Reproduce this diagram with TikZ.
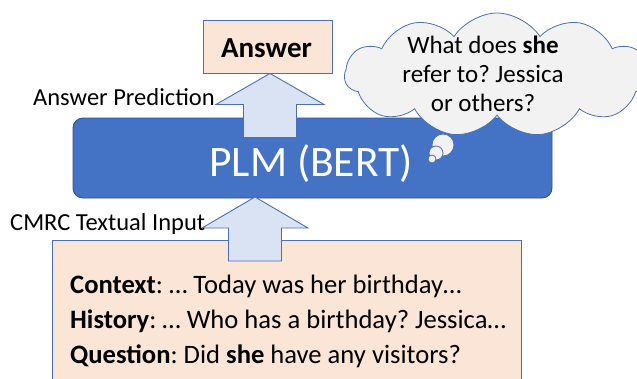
\documentclass[tikz,border=0pt]{standalone}
\usepackage{fontspec}
\setmainfont{Carlito}
\usetikzlibrary{shapes.symbols}

\definecolor{plmblue}{HTML}{4472C4}
\definecolor{plmedge}{HTML}{2F528F}
\definecolor{arrowfill}{HTML}{DAE3F3}
\definecolor{arrowedge}{HTML}{4A6FB5}
\definecolor{peach}{HTML}{FBE5D6}
\definecolor{cloudgray}{HTML}{F2F2F2}

\tikzset{
  x=1pt, y=-1pt,
  peachbox/.style={draw=arrowedge, fill=peach, line width=0.9pt, inner sep=0pt},
  plmbox/.style={draw=plmedge, fill=plmblue, line width=0.9pt, rounded corners=10pt, inner sep=0pt},
  blockarrow/.style={draw=arrowedge, fill=arrowfill, line width=0.9pt, line join=miter},
  sidelabel/.style={inner sep=0pt, font=\fontsize{24.5}{28}\selectfont},
  inputline/.style={inner sep=0pt, font=\fontsize{26.6}{32}\selectfont},
  thought/.style={draw=arrowedge, fill=cloudgray, line width=0.8pt},
  % upward block arrow; the pic origin is the tip
  uparrow/.pic={
    \path[blockarrow] (0,0) -- (#1,31) -- (26.5,31) -- (26.5,64) -- (-26.5,64)
      -- (-26.5,31) -- (-#1,31) -- cycle;
  },
}

\begin{document}
\frenchspacing
\begin{tikzpicture}
  \useasboundingbox (0,0) rectangle (637,378);
  \clip (0,0) rectangle (637,378);

  % model block
  \node[plmbox, minimum width=479pt, minimum height=80pt] (plm) at (312.5,158) {};
  \node[text=white, inner sep=0pt, anchor=base, font=\fontsize{43.5}{48}\selectfont] (plmtext) at (311,176) {PLM (BERT)};

  % answer box and the arrow feeding it
  \node[peachbox, minimum width=129pt, minimum height=53pt] (ans) at (267.5,46.5) {};
  \node[inner sep=0pt, anchor=base, font=\bfseries\fontsize{29}{32}\selectfont] (anstext) at (266.5,57) {Answer};
  \coordinate (anstip) at ([xshift=2.5pt]ans.south);
  \pic at (anstip) {uparrow=54};
  \node[sidelabel, anchor=base west] (predlabel) at (33,105) {Answer Prediction};

  % textual input box
  \node[peachbox, anchor=north west, minimum width=469pt, minimum height=160pt] (input) at (52,240) {};
  \node[inputline, anchor=base west] (ctx) at (70,293) {\textbf{Context}: … Today was her birthday…};
  \node[inputline, anchor=base west] (hist) at (70,328) {\textbf{History}: … Who has a birthday? Jessica…};
  \node[inputline, anchor=base west] (ques) at (70,363) {\textbf{Question}: Did \textbf{she} have any visitors?};
  \coordinate (intip) at (255,197);
  \pic at (intip) {uparrow=53};
  \node[sidelabel, anchor=base west] (inlabel) at (10,230) {CMRC Textual Input};

  % thought cloud
  \node[cloud, cloud puffs=11, cloud puff arc=115, aspect=2.4, thought,
        minimum width=305pt, minimum height=124pt, inner sep=0pt] (cloud) at (497,75) {};
  \node[inner sep=0pt, align=center, font=\fontsize{25}{29}\selectfont] (cloudtext) at (483,74)
    {What does \textbf{she}\\refer to? Jessica\\or others?};
  \node[circle, thought, minimum size=22pt, inner sep=0pt] (bub1) at (443,145) {};
  \node[circle, thought, minimum size=14pt, inner sep=0pt] (bub2) at (436,153) {};
  \node[circle, thought, minimum size=8pt, inner sep=0pt] (bub3) at (432,159) {};
\end{tikzpicture}
\end{document}
